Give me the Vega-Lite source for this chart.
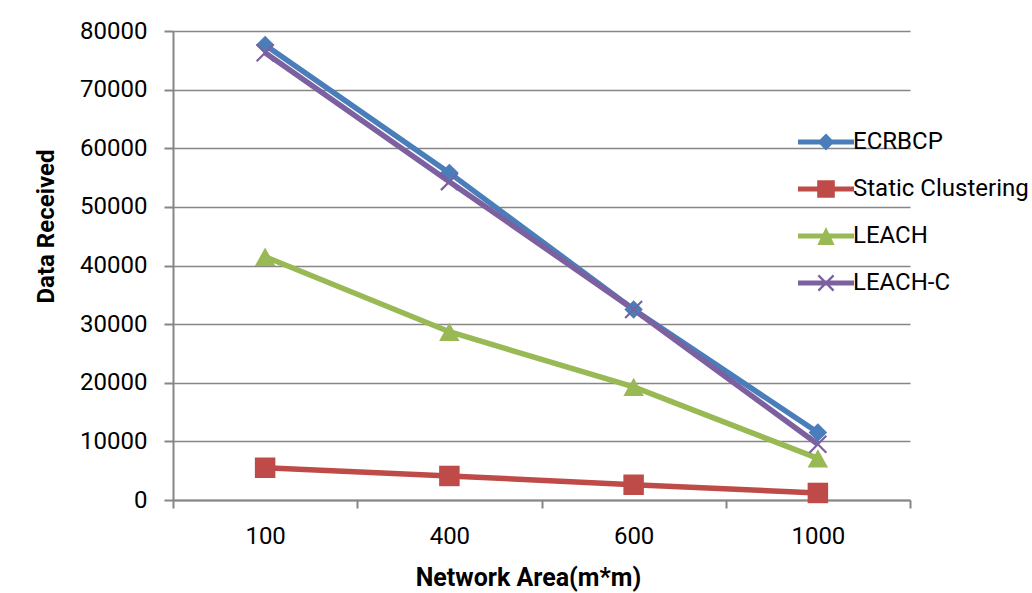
{
  "$schema": "https://vega.github.io/schema/vega-lite/v6.json",
  "width": 737,
  "height": 469,
  "autosize": {"type": "none"},
  "padding": {"left": 173, "top": 31, "right": 122, "bottom": 93},
  "background": "white",
  "config": {
    "view": {"stroke": null},
    "font": "Roboto",
    "axis": {
      "labelFont": "Roboto",
      "labelFontSize": 24,
      "labelColor": "#000000",
      "titleFont": "Roboto",
      "titleFontSize": 24,
      "titleFontWeight": "bold",
      "titleColor": "#000000",
      "domainColor": "#868686",
      "domainWidth": 2,
      "tickColor": "#868686",
      "tickWidth": 2,
      "gridColor": "#868686",
      "gridWidth": 1.5
    }
  },
  "data": {
    "values": [
      {"series": "ECRBCP", "area": "100", "value": 77600},
      {"series": "ECRBCP", "area": "400", "value": 55800},
      {"series": "ECRBCP", "area": "600", "value": 32500},
      {"series": "ECRBCP", "area": "1000", "value": 11500},
      {"series": "Static Clustering", "area": "100", "value": 5500},
      {"series": "Static Clustering", "area": "400", "value": 4100},
      {"series": "Static Clustering", "area": "600", "value": 2600},
      {"series": "Static Clustering", "area": "1000", "value": 1200},
      {"series": "LEACH", "area": "100", "value": 41500},
      {"series": "LEACH", "area": "400", "value": 28700},
      {"series": "LEACH", "area": "600", "value": 19300},
      {"series": "LEACH", "area": "1000", "value": 7100},
      {"series": "LEACH-C", "area": "100", "value": 76300},
      {"series": "LEACH-C", "area": "400", "value": 54300},
      {"series": "LEACH-C", "area": "600", "value": 32500},
      {"series": "LEACH-C", "area": "1000", "value": 9500}
    ]
  },
  "encoding": {
    "x": {
      "field": "area",
      "type": "ordinal",
      "sort": ["100", "400", "600", "1000"],
      "scale": {"type": "band", "paddingInner": 0, "paddingOuter": 0},
      "axis": {
        "title": "Network Area(m*m)",
        "titleFontSize": 25,
        "labelAngle": 0,
        "tickBand": "extent",
        "tickSize": 8,
        "labelPadding": 16,
        "grid": false,
        "titleX": 355,
        "titleY": 65,
        "titleBaseline": "top"
      }
    },
    "y": {
      "field": "value",
      "type": "quantitative",
      "scale": {"domain": [0, 80000], "nice": false},
      "axis": {
        "title": "Data Received",
        "values": [0, 10000, 20000, 30000, 40000, 50000, 60000, 70000, 80000],
        "format": "d",
        "tickSize": 9,
        "labelPadding": 17,
        "grid": true,
        "titleAngle": 270,
        "titleX": -127,
        "titleY": 195,
        "titleAlign": "center",
        "titleBaseline": "middle"
      }
    }
  },
  "layer": [
    {
      "mark": {"type": "line", "strokeWidth": 5.5},
      "encoding": {
        "color": {
          "field": "series",
          "type": "nominal",
          "scale": {
            "domain": ["ECRBCP", "Static Clustering", "LEACH", "LEACH-C"],
            "range": ["#4A7EBB", "#BE4B48", "#98B954", "#7D60A0"]
          },
          "legend": null
        }
      }
    },
    {
      "mark": {"type": "point", "filled": true, "opacity": 1, "size": 420, "strokeWidth": 0},
      "encoding": {
        "color": {
          "field": "series",
          "type": "nominal",
          "scale": {
            "domain": ["ECRBCP", "Static Clustering", "LEACH", "LEACH-C"],
            "range": ["#4A7EBB", "#BE4B48", "#98B954", "#7D60A0"]
          },
          "legend": null
        },
        "shape": {
          "field": "series",
          "type": "nominal",
          "scale": {
            "domain": ["ECRBCP", "Static Clustering", "LEACH", "LEACH-C"],
            "range": [
              "M0,-0.9L0.9,0L0,0.9L-0.9,0Z",
              "M-1,-1H1V1H-1Z",
              "M0,-0.9L1,0.9L-1,0.9Z",
              "M-0.9,-0.75L-0.75,-0.9L0.9,0.75L0.75,0.9Z M0.9,-0.75L-0.75,0.9L-0.9,0.75L0.75,-0.9Z"
            ]
          },
          "legend": null
        }
      }
    },
    {
      "mark": {"type": "point", "filled": true, "opacity": 0, "size": 1600, "strokeWidth": 0},
      "encoding": {
        "color": {
          "field": "series",
          "type": "nominal",
          "scale": {
            "domain": ["ECRBCP", "Static Clustering", "LEACH", "LEACH-C"],
            "range": ["#4A7EBB", "#BE4B48", "#98B954", "#7D60A0"]
          },
          "legend": {
            "title": null,
            "orient": "none",
            "legendX": 633,
            "legendY": 91,
            "padding": 0,
            "rowPadding": 15,
            "symbolSize": 1600,
            "symbolOpacity": 1,
            "symbolStrokeWidth": 0,
            "labelOffset": 7,
            "labelFont": "Roboto",
            "labelFontSize": 24,
            "labelColor": "#000000",
            "labelLimit": 400
          }
        },
        "shape": {
          "field": "series",
          "type": "nominal",
          "scale": {
            "domain": ["ECRBCP", "Static Clustering", "LEACH", "LEACH-C"],
            "range": [
              "M-1.4,-0.13H1.4V0.13H-1.4Z M0,-0.42L0.42,0L0,0.42L-0.42,0Z",
              "M-1.4,-0.13H1.4V0.13H-1.4Z M-0.44,-0.44H0.44V0.44H-0.44Z",
              "M-1.4,-0.13H1.4V0.13H-1.4Z M0,-0.45L0.43,0.45L-0.43,0.45Z",
              "M-1.4,-0.13H1.4V0.13H-1.4Z M-0.42,-0.34L-0.34,-0.42L0.42,0.34L0.34,0.42Z M0.42,-0.34L-0.34,0.42L-0.42,0.34L0.34,-0.42Z"
            ]
          },
          "legend": {
            "title": null,
            "orient": "none",
            "legendX": 633,
            "legendY": 91,
            "padding": 0,
            "rowPadding": 15,
            "symbolSize": 1600,
            "symbolOpacity": 1,
            "symbolStrokeWidth": 0,
            "labelOffset": 7,
            "labelFont": "Roboto",
            "labelFontSize": 24,
            "labelColor": "#000000",
            "labelLimit": 400
          }
        }
      }
    }
  ],
  "resolve": {
    "scale": {"shape": "independent"},
    "legend": {"color": "independent", "shape": "independent"}
  }
}
